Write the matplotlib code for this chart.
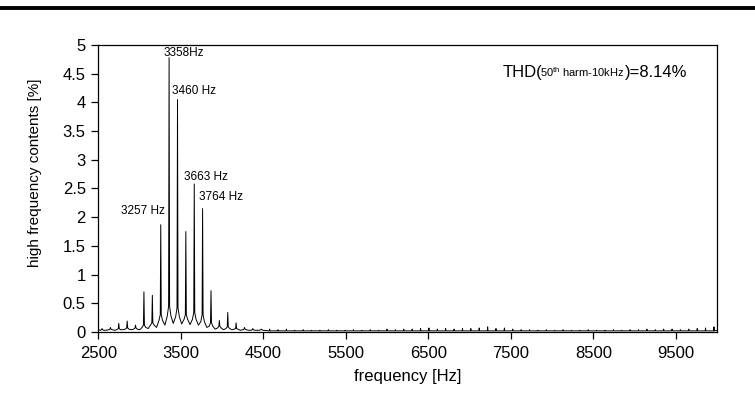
import matplotlib
matplotlib.use("Agg")
import matplotlib.pyplot as plt
from matplotlib.lines import Line2D
from matplotlib.ticker import FuncFormatter
import numpy as np

plt.rcParams['font.family'] = ['Liberation Sans', 'DejaVu Sans']
plt.rcParams['mathtext.fontset'] = 'custom'
plt.rcParams['mathtext.rm'] = 'Liberation Sans'
plt.rcParams['mathtext.it'] = 'Liberation Sans'

# harmonic lines of the spectrum (Hz / %)
harm_freq = [2545, 2647, 2748, 2850, 2951, 3053, 3155, 3257, 3358, 3460,
             3561, 3663, 3764, 3866, 3967, 4069, 4170, 4272, 4373, 4475]
harm_amp = [0.06, 0.08, 0.15, 0.19, 0.12, 0.70, 0.64, 1.87, 4.78, 4.05,
            1.75, 2.58, 2.15, 0.72, 0.20, 0.34, 0.16, 0.08, 0.06, 0.05]
# level of the line close to the foot of each harmonic
foot_amp = [0.04, 0.05, 0.06, 0.07, 0.07, 0.12, 0.16, 0.30, 0.45, 0.42,
            0.30, 0.34, 0.30, 0.16, 0.10, 0.09, 0.06, 0.05, 0.04, 0.04]
# skirt level a bit further out
skirt_amp = [0.03, 0.04, 0.04, 0.05, 0.05, 0.08, 0.12, 0.20, 0.28, 0.27,
             0.22, 0.22, 0.18, 0.10, 0.07, 0.06, 0.05, 0.04, 0.03, 0.03]
# minimum between two neighbouring harmonics
valley_amp = [0.03, 0.03, 0.04, 0.04, 0.04, 0.06, 0.08, 0.12, 0.15, 0.14,
              0.13, 0.12, 0.08, 0.05, 0.04, 0.04, 0.03, 0.03, 0.03]

# small spikes of the noise floor above 4.5 kHz
noise_freq = [4577, 4678, 4780, 4881, 4983, 5085, 5186, 5288, 5390, 5491,
              5593, 5694, 5796, 5898, 5999, 6101, 6202, 6304, 6406, 6507,
              6609, 6710, 6812, 6914, 7015, 7117, 7219, 7320, 7422, 7523,
              7625, 7727, 7828, 7930, 8031, 8133, 8235, 8336, 8438, 8539,
              8641, 8743, 8844, 8946, 9047, 9149, 9251, 9352, 9454, 9555,
              9657, 9759, 9860, 9962]
noise_amp = [0.05, 0.04, 0.05, 0.03, 0.04, 0.03, 0.03, 0.04, 0.03, 0.03,
             0.04, 0.03, 0.04, 0.03, 0.05, 0.04, 0.05, 0.05, 0.06, 0.07,
             0.05, 0.06, 0.05, 0.06, 0.06, 0.07, 0.09, 0.06, 0.07, 0.05,
             0.04, 0.04, 0.03, 0.04, 0.03, 0.04, 0.03, 0.03, 0.04, 0.03,
             0.03, 0.04, 0.03, 0.04, 0.04, 0.05, 0.04, 0.05, 0.05, 0.04,
             0.05, 0.06, 0.07, 0.09]
noise_floor = 0.02

edge_freq = [2500, 10000]
edge_amp = [0.04, 0.03]

peak_labels = ["3257 Hz", "3358Hz", "3460 Hz", "3663 Hz", "3764 Hz"]
label_pos = [(3039, 2.11), (3530, 4.86), (3658, 4.19), (3799, 2.70), (3991, 2.35)]

# build the trace
pts = list(zip(edge_freq, edge_amp))
for i, (f, a) in enumerate(zip(harm_freq, harm_amp)):
    pts += [(f - 22, skirt_amp[i]), (f - 6, foot_amp[i]), (f, a),
            (f + 6, foot_amp[i]), (f + 22, skirt_amp[i])]
    if i < len(valley_amp):
        pts.append(((f + harm_freq[i + 1]) / 2, valley_amp[i]))
for f, a in zip(noise_freq, noise_amp):
    pts += [(f - 4, noise_floor), (f, a), (f + 4, noise_floor)]
pts.sort()
freq = np.array([p[0] for p in pts])
amp = np.array([p[1] for p in pts])

fig = plt.figure(figsize=(7.55, 3.96), dpi=100)
ax = fig.add_axes([0.1302, 0.1616, 0.8196, 0.7248])

ax.plot(freq, amp, color='black', lw=0.7)

ax.set_xlim(2500, 10000)
ax.set_ylim(0, 5)
ax.set_xticks(np.arange(2500, 10000, 1000))
ax.set_yticks(np.arange(0, 5.01, 0.5))
ax.yaxis.set_major_formatter(FuncFormatter(lambda v, p: '%g' % v))
ax.tick_params(direction='out', length=5, width=0.9, labelsize=12, pad=4)
ax.tick_params(axis='x', pad=5)
for s in ax.spines.values():
    s.set_linewidth(0.9)

ax.set_xlabel('frequency [Hz]', fontsize=12, labelpad=6)
ax.set_ylabel('high frequency contents [%]', fontsize=11)
ax.yaxis.set_label_coords(-0.0915, 0.554)

for txt, (x, y) in zip(peak_labels, label_pos):
    ax.text(x, y, txt, fontsize=8.5, ha='center', va='center')

# THD note: big / small / big pieces on one baseline
thd_parts = [("THD(", 12, -2.5), (r"50$^{\rm th}$ harm-10kHz", 8, 0), (")=8.14%", 12, 0)]
renderer = fig.canvas.get_renderer()
x0 = 0.654
for s, fs, kern in thd_parts:
    t = ax.text(x0, 0.888, s, fontsize=fs, ha='left', va='baseline',
                transform=ax.transAxes)
    bb = t.get_window_extent(renderer=renderer)
    x0 = ax.transAxes.inverted().transform((bb.x1 + kern, bb.y0))[0]

# rule at the top of the page
fig.add_artist(Line2D([0, 1], [0.981, 0.981], transform=fig.transFigure,
                      color='black', lw=2.8))

fig.savefig('out.png', dpi=100)
